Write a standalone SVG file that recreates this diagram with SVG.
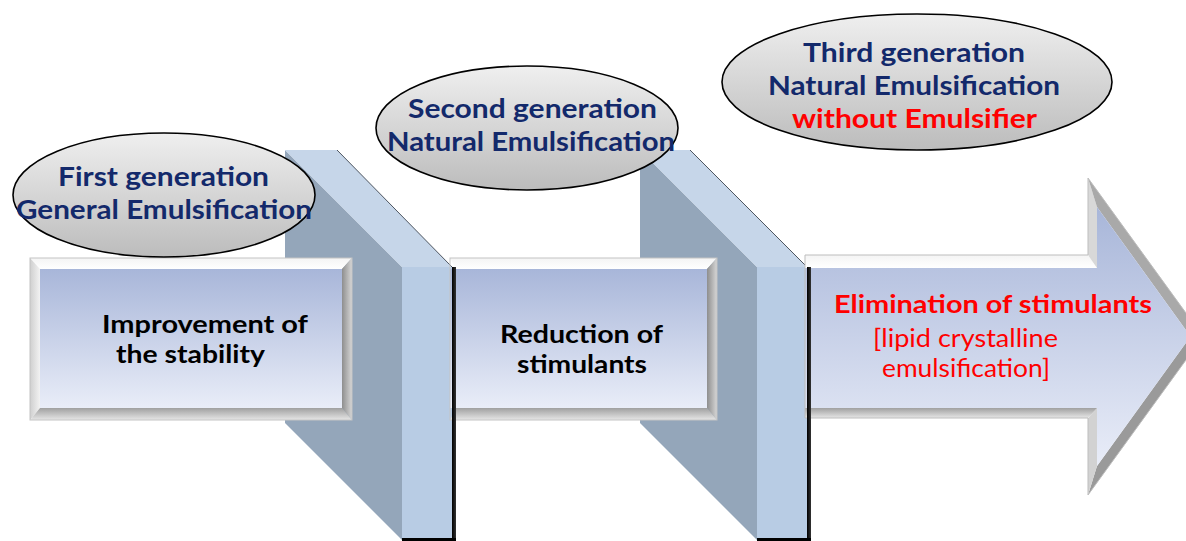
<svg xmlns="http://www.w3.org/2000/svg" width="1186" height="541" viewBox="0 0 1186 541">
  <defs>
    <linearGradient id="face" x1="0" y1="0" x2="0" y2="1">
      <stop offset="0" stop-color="#a8b6d9"/>
      <stop offset="1" stop-color="#e9edf8"/>
    </linearGradient>
    <linearGradient id="ell" x1="0" y1="0" x2="0" y2="1">
      <stop offset="0" stop-color="#efefef"/>
      <stop offset="1" stop-color="#bcbcbc"/>
    </linearGradient>
    <linearGradient id="bTop" x1="0" y1="0" x2="0" y2="1">
      <stop offset="0" stop-color="#f4f4f4"/>
      <stop offset="1" stop-color="#ffffff"/>
    </linearGradient>
    <linearGradient id="bLeft" x1="0" y1="0" x2="1" y2="0">
      <stop offset="0" stop-color="#cfcfcf"/>
      <stop offset="1" stop-color="#f2f2f2"/>
    </linearGradient>
    <linearGradient id="bRight" x1="0" y1="0" x2="1" y2="0">
      <stop offset="0" stop-color="#8e8e8e"/>
      <stop offset="1" stop-color="#d6d6d6"/>
    </linearGradient>
    <linearGradient id="bBot" x1="0" y1="0" x2="0" y2="1">
      <stop offset="0" stop-color="#a0a0a0"/>
      <stop offset="1" stop-color="#e6e6e6"/>
    </linearGradient>
    <linearGradient id="shadow" x1="0" y1="0" x2="1" y2="0">
      <stop offset="0" stop-color="#000"/>
      <stop offset="1" stop-color="#333"/>
    </linearGradient>
    <style>
      .side { fill: #94a6ba; }
      .topf { fill: #c6d6e9; }
      .front { fill: #b8cce4; }
      .edge { stroke: #4d5560; stroke-width: 1; fill: none; }
      .ellipse { fill: url(#ell); stroke: #000; stroke-width: 1.6; }
      .gen { font-family: Lato, "Open Sans", sans-serif; font-weight: bold; font-size: 27px; fill: #13296b; }
      .red { fill: #ff0000; }
      .box { font-family: Lato, "Open Sans", sans-serif; font-weight: bold; font-size: 25px; fill: #000; }
      .arrowt { font-family: Lato, "Open Sans", sans-serif; font-size: 25px; fill: #ff0000; }
    </style>
  </defs>

  <g id="plate1">
    <polygon class="side" points="285,150 402,267 402,540 285,423"/>
    <polygon class="topf" points="285,150 337,150 452,267 402,267"/>
    <rect class="front" x="402" y="267" width="50" height="274"/>
    <line class="edge" x1="337" y1="150" x2="452" y2="267"/>
  </g>
  <g id="plate2">
    <polygon class="side" points="640,150 757,267 757,540 640,423"/>
    <polygon class="topf" points="640,150 690,150 807,267 757,267"/>
    <rect class="front" x="757" y="267" width="50" height="274"/>
    <line class="edge" x1="690" y1="150" x2="807" y2="267"/>
  </g>

  <g id="box1">
    <polygon fill="url(#bTop)" points="30,258 352,258 342,269 40,269"/>
    <polygon fill="url(#bLeft)" points="30,258 40,269 40,408 30,420"/>
    <polygon fill="url(#bRight)" points="342,269 352,258 352,420 342,408"/>
    <polygon fill="url(#bBot)" points="40,408 342,408 352,420 30,420"/>
    <rect x="40" y="269" width="302" height="139" fill="url(#face)"/>
    <rect x="30" y="258" width="322" height="162" fill="none" stroke="#c4c4c4" stroke-width="1"/>
    <text class="box" x="102" y="333" textLength="206" lengthAdjust="spacingAndGlyphs">Improvement of</text>
    <text class="box" x="116" y="363" textLength="149" lengthAdjust="spacingAndGlyphs">the stability</text>
  </g>

  <g id="box2">
    <polygon fill="url(#bTop)" points="450,258 717,258 707,269 456,269"/>
    <polygon fill="url(#bRight)" points="707,269 717,258 717,420 707,408"/>
    <polygon fill="url(#bBot)" points="456,408 707,408 717,420 450,420"/>
    <rect x="450" y="269" width="257" height="139" fill="url(#face)"/>
    <rect x="450" y="258" width="267" height="162" fill="none" stroke="#c4c4c4" stroke-width="1"/>
    <text class="box" x="500" y="343" textLength="163" lengthAdjust="spacingAndGlyphs">Reduction of</text>
    <text class="box" x="517" y="373" textLength="130" lengthAdjust="spacingAndGlyphs">stimulants</text>
  </g>

  <g id="arrow">
    <polygon fill="url(#bTop)" points="805,255 1088,255 1097,268 805,268"/>
    <polygon fill="#d8d8d8" points="1088,255 1088,178 1097,207 1097,268"/>
    <polygon fill="#a9a9a9" points="1088,178 1203,336.5 1190.6,336.5 1097,207"/>
    <polygon fill="#9a9a9a" points="1203,336.5 1088,495 1097,466 1190.6,336.5"/>
    <polygon fill="#d2d2d2" points="1088,495 1088,418 1097,408 1097,466"/>
    <polygon fill="url(#bBot)" points="805,408 1097,408 1088,418 805,418"/>
    <polygon fill="url(#face)" points="805,268 1097,268 1097,207 1190.6,336.5 1097,466 1097,408 805,408"/>
    <polygon fill="none" stroke="#bdbdbd" stroke-width="1" points="805,255 1088,255 1088,178 1203,336.5 1088,495 1088,418 805,418"/>
    <text class="arrowt" x="834" y="313" font-weight="bold" textLength="318" lengthAdjust="spacingAndGlyphs">Elimination of stimulants</text>
    <text class="arrowt" x="873" y="347" textLength="185" lengthAdjust="spacingAndGlyphs">[lipid crystalline</text>
    <text class="arrowt" x="882" y="377" textLength="168" lengthAdjust="spacingAndGlyphs">emulsification]</text>
  </g>

  <g id="connectors">
    <rect x="452" y="267" width="4" height="274" fill="url(#shadow)"/>
    <rect x="402" y="538" width="54" height="3" fill="#000"/>
    <rect x="807" y="267" width="4" height="274" fill="url(#shadow)"/>
    <rect x="757" y="538" width="54" height="3" fill="#000"/>
  </g>

  <g id="ellipse1">
    <ellipse class="ellipse" cx="164" cy="195" rx="151" ry="62"/>
    <text class="gen" x="58" y="186" textLength="211" lengthAdjust="spacingAndGlyphs">First generation</text>
    <text class="gen" x="16" y="219" textLength="296" lengthAdjust="spacingAndGlyphs">General Emulsification</text>
  </g>
  <g id="ellipse2">
    <ellipse class="ellipse" cx="527" cy="128" rx="151" ry="62"/>
    <text class="gen" x="408" y="118" textLength="249" lengthAdjust="spacingAndGlyphs">Second generation</text>
    <text class="gen" x="387" y="151" textLength="288" lengthAdjust="spacingAndGlyphs">Natural Emulsification</text>
  </g>
  <g id="ellipse3">
    <ellipse class="ellipse" cx="917" cy="82" rx="195" ry="68"/>
    <text class="gen" x="803" y="62" textLength="222" lengthAdjust="spacingAndGlyphs">Third generation</text>
    <text class="gen" x="768" y="95" textLength="292" lengthAdjust="spacingAndGlyphs">Natural Emulsification</text>
    <text class="gen red" x="792" y="128" textLength="245" lengthAdjust="spacingAndGlyphs">without Emulsifier</text>
  </g>
</svg>
